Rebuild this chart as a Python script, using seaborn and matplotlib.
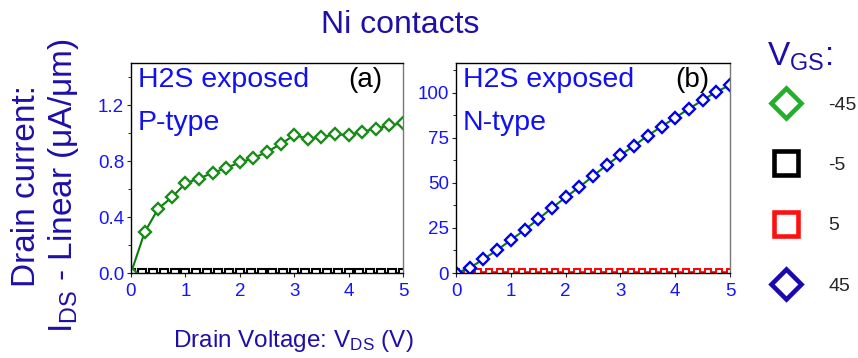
import matplotlib
matplotlib.use("Agg")
import matplotlib.pyplot as plt
import seaborn as sns
import pandas as pd
from matplotlib.lines import Line2D
from matplotlib.ticker import MultipleLocator, FormatStrFormatter

# ---------------- data ----------------
vds_coarse = [0.0, 0.25, 0.5, 0.75, 1.0, 1.25, 1.5, 1.75, 2.0, 2.25, 2.5,
              2.75, 3.0, 3.25, 3.5, 3.75, 4.0, 4.25, 4.5, 4.75, 5.0]
vds_fine = [0.0, 0.2, 0.4, 0.6, 0.8, 1.0, 1.2, 1.4, 1.6, 1.8, 2.0, 2.2, 2.4,
            2.6, 2.8, 3.0, 3.2, 3.4, 3.6, 3.8, 4.0, 4.2, 4.4, 4.6, 4.8, 5.0]

# panel (a): P-type, VGS = -45 V
ids_a_m45 = [0.0, 0.29, 0.46, 0.54, 0.64, 0.675, 0.715, 0.75, 0.79, 0.82, 0.865,
             0.92, 0.985, 0.96, 0.97, 0.99, 0.985, 1.01, 1.03, 1.055, 1.07]
# panel (a): VGS = -5 V
ids_a_m5 = [0.0, 0.0, 0.0, 0.0, 0.0, 0.0, 0.0, 0.0, 0.0, 0.0, 0.0, 0.0, 0.0,
            0.0, 0.0, 0.0, 0.0, 0.0, 0.0, 0.0, 0.0, 0.0, 0.0, 0.0, 0.0, 0.0]
# panel (b): N-type, VGS = 45 V
ids_b_45 = [0.0, 2.8, 7.7, 12.7, 18.3, 23.9, 29.9, 36.1, 42.0, 47.7, 53.8,
            60.0, 65.4, 70.7, 76.3, 81.3, 86.2, 91.2, 95.9, 100.6, 104.3]
# panel (b): VGS = 5 V and -5 V
ids_b_5 = [0.8, 0.8, 0.8, 0.8, 0.8, 0.8, 0.8, 0.8, 0.8, 0.8, 0.8, 0.8, 0.8,
           0.8, 0.8, 0.8, 0.8, 0.8, 0.8, 0.8, 0.8, 0.8, 0.8, 0.8, 0.8, 0.8]
ids_b_m5 = [0.0, 0.0, 0.0, 0.0, 0.0, 0.0, 0.0, 0.0, 0.0, 0.0, 0.0, 0.0, 0.0,
            0.0, 0.0, 0.0, 0.0, 0.0, 0.0, 0.0, 0.0, 0.0, 0.0, 0.0, 0.0, 0.0]

legend_labels = ["-45", "-5", "5", "45"]
xticks = [0, 1, 2, 3, 4, 5]
yticks_a = [0.0, 0.4, 0.8, 1.2]
yticks_b = [0, 25, 50, 75, 100]

# ---------------- style ----------------
sns.set_style("ticks")
plt.rcParams["font.family"] = ["Liberation Sans", "DejaVu Sans"]
plt.rcParams["mathtext.fontset"] = "custom"
plt.rcParams["mathtext.rm"] = "Liberation Sans"
plt.rcParams["mathtext.it"] = "Liberation Sans:italic"
plt.rcParams["mathtext.bf"] = "Liberation Sans:bold"
plt.rcParams["mathtext.default"] = "rm"

DARKBLUE = "#1e0fa8"
TICKBLUE = "#1414ff"
TXTBLUE = "#1010f0"
GREEN_LINE = "#0b7d0b"
GREEN_MK = "#1a8c1a"
BLUE_MK = "#0000ee"

fig = plt.figure(figsize=(8.58, 3.58), dpi=100)
axa = fig.add_axes([131 / 858, 1 - 273 / 358, 272 / 858, 210 / 358])
axb = fig.add_axes([456 / 858, 1 - 273 / 358, 274 / 858, 210 / 358])

df_a45 = pd.DataFrame({"V": vds_coarse, "I": ids_a_m45})
df_a5 = pd.DataFrame({"V": vds_fine, "I": ids_a_m5})
df_b45 = pd.DataFrame({"V": vds_coarse, "I": ids_b_45})
df_b5 = pd.DataFrame({"V": vds_fine, "I": ids_b_5})
df_bm5 = pd.DataFrame({"V": vds_fine, "I": ids_b_m5})

# panel (a)
sns.lineplot(data=df_a5, x="V", y="I", ax=axa, color="black", lw=1.2,
             marker="s", markersize=5.5, markerfacecolor="white",
             markeredgecolor="black", markeredgewidth=1.5)
sns.lineplot(data=df_a45, x="V", y="I", ax=axa, color=GREEN_LINE, lw=1.5,
             marker="D", markersize=6.3, markerfacecolor="white",
             markeredgecolor=GREEN_MK, markeredgewidth=1.7)

# panel (b)
sns.lineplot(data=df_bm5, x="V", y="I", ax=axb, color="black", lw=1.2)
sns.lineplot(data=df_b5, x="V", y="I", ax=axb, color="red", lw=1.2,
             marker="s", markersize=5, markerfacecolor="white",
             markeredgecolor="red", markeredgewidth=1.4)
sns.lineplot(data=df_b45, x="V", y="I", ax=axb, color=GREEN_LINE, lw=1.5,
             marker="D", markersize=6.3, markerfacecolor="white",
             markeredgecolor=BLUE_MK, markeredgewidth=1.7)

for ax, yt, ylim, minor in [(axa, yticks_a, (0, 1.5), 0.2),
                            (axb, yticks_b, (0, 116.6), 12.5)]:
    ax.set_xlim(0, 5)
    ax.set_ylim(*ylim)
    ax.set_xticks(xticks)
    ax.set_yticks(yt)
    ax.yaxis.set_minor_locator(MultipleLocator(minor))
    ax.set_xlabel("")
    ax.set_ylabel("")
    ax.tick_params(axis="both", which="major", direction="out", length=3,
                   width=0.8, labelsize=13.5, labelcolor=TICKBLUE, pad=2)
    ax.tick_params(axis="y", which="minor", direction="out", length=2, width=0.7)
    ax.tick_params(axis="x", which="major", pad=4)
    for s in ax.spines.values():
        s.set_visible(True)
        s.set_linewidth(1.0)
        s.set_color("black")
    ax.spines["right"].set_color("#777777")

axa.yaxis.set_major_formatter(FormatStrFormatter("%.1f"))

for ax, kind, tag in [(axa, "P-type", "(a)"), (axb, "N-type", "(b)")]:
    ax.text(0.026, 0.885, "H2S exposed", transform=ax.transAxes, fontsize=20.5,
            color=TXTBLUE, ha="left", va="baseline")
    ax.text(0.026, 0.68, kind, transform=ax.transAxes, fontsize=20.5,
            color=TXTBLUE, ha="left", va="baseline")
    ax.text(0.925, 0.885, tag, transform=ax.transAxes, fontsize=20,
            color="black", ha="right", va="baseline")

# titles / labels
fig.text(321 / 858, 1 - 33 / 358, "Ni contacts", fontsize=23, color=DARKBLUE,
         ha="left", va="baseline")
fig.text(293 / 858, 1 - 347 / 358, r"Drain Voltage: $\mathrm{V_{DS}}$ (V)",
         fontsize=17.5, color=DARKBLUE, ha="center", va="baseline")
fig.text(46 / 858, 1 - 186 / 358,
         "Drain current:\n" + r"$\mathrm{I_{DS}}$ - Linear (μA/μm)",
         fontsize=24, color=DARKBLUE, rotation=90, ha="center", va="center",
         multialignment="center", linespacing=1.15)

# legend title as separate text, entries as a legend
fig.text(767 / 858, 1 - 66 / 358, r"$\mathrm{V_{GS}}$:", fontsize=24,
         color=DARKBLUE, ha="left", va="baseline")
handles = [
    Line2D([], [], ls="none", marker="D", markersize=15.5, markerfacecolor="white",
           markeredgecolor="#22b02a", markeredgewidth=3.3),
    Line2D([], [], ls="none", marker="s", markersize=17, markerfacecolor="white",
           markeredgecolor="black", markeredgewidth=3.3),
    Line2D([], [], ls="none", marker="s", markersize=17, markerfacecolor="white",
           markeredgecolor="#ff1010", markeredgewidth=3.3),
    Line2D([], [], ls="none", marker="D", markersize=15.5, markerfacecolor="white",
           markeredgecolor="#1a08b0", markeredgewidth=3.3),
]
leg = fig.legend(handles, legend_labels, loc="upper left",
                 bbox_to_anchor=(767 / 858, 1 - 96 / 358),
                 frameon=False, fontsize=14, labelspacing=2.2, handletextpad=1.15,
                 handlelength=2.0, borderpad=0, borderaxespad=0)

fig.savefig("out.png", dpi=100)
